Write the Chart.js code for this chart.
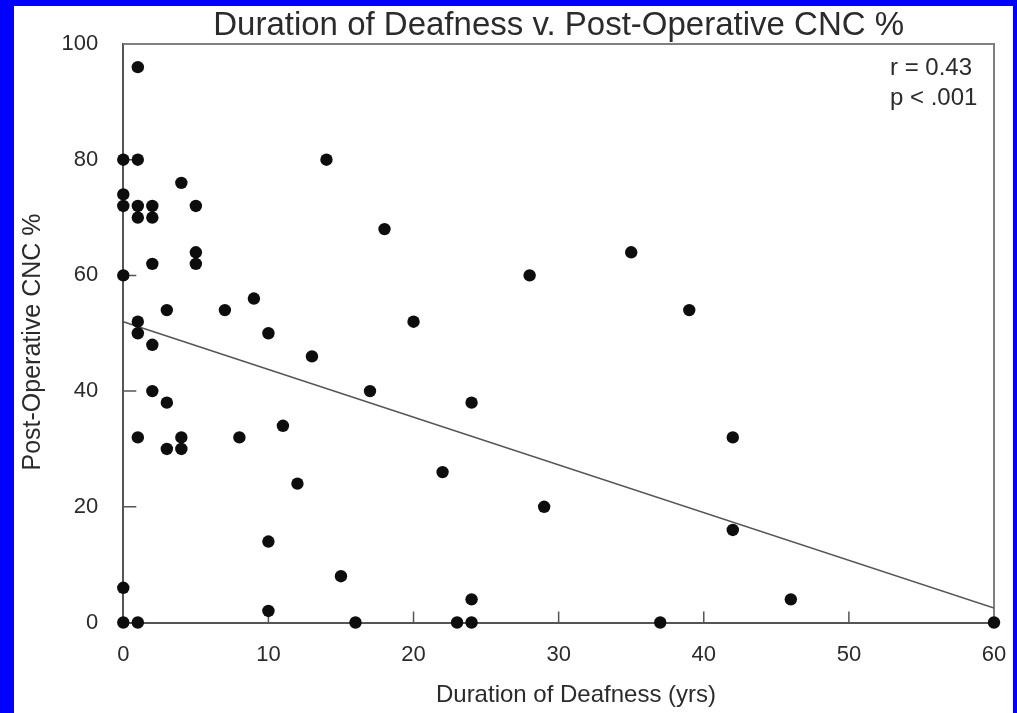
<!DOCTYPE html>
<html>
<head>
<meta charset="utf-8">
<title>Duration of Deafness v. Post-Operative CNC %</title>
<script src="https://cdn.jsdelivr.net/npm/chart.js@4/dist/chart.umd.min.js"></script>
<style>
  html, body { margin: 0; padding: 0; background: #0000ff; }
  #wrap { position: absolute; left: 14px; top: 6px; width: 999px; height: 707px; background: #fff; }
</style>
</head>
<body>
<div id="wrap"><canvas id="cnc"></canvas></div>
<script>
// duration of deafness (yrs) and post-operative CNC % for each patient
const years = [0, 0, 0, 0, 0, 0, 1, 1, 1, 1, 1, 1, 1, 1, 2, 2, 2, 2, 2, 3, 3, 3, 4, 4, 4, 5, 5, 5,
  7, 8, 9, 10, 10, 10, 11, 12, 13, 14, 15, 16, 17, 18, 20, 22, 23, 24, 24, 24, 28, 29, 35, 37, 39, 42, 42, 46, 60];
const cnc = [80, 74, 72, 60, 6, 0, 96, 80, 72, 70, 52, 50, 32, 0, 72, 70, 62, 48, 40, 54, 38, 30, 76, 32, 30, 72, 64, 62,
  54, 32, 56, 50, 14, 2, 34, 24, 46, 80, 8, 0, 40, 68, 52, 26, 0, 38, 4, 0, 60, 20, 64, 0, 54, 32, 16, 4, 0];

// regression line end points
const fitYears = [0, 60];
const fitCnc = [52, 2.5];

const xTicks = [0, 10, 20, 30, 40, 50, 60];
const yTicks = [0, 20, 40, 60, 80, 100];
const stats = ["r = 0.43", "p < .001"];

const FONT = "'Liberation Sans', Arial, sans-serif";
const INK = "#2b2b2b";

const extras = {
  id: "extras",
  beforeDatasetsDraw(chart) {
    const { ctx, chartArea: a, scales: { x, y } } = chart;
    ctx.save();
    // top and right edges of the box
    ctx.strokeStyle = "#808080";
    ctx.lineWidth = 2;
    ctx.beginPath();
    ctx.moveTo(a.left, a.top);
    ctx.lineTo(a.right, a.top);
    ctx.lineTo(a.right, a.bottom);
    ctx.stroke();
    // tick marks pointing into the plot
    ctx.strokeStyle = "#555";
    ctx.lineWidth = 1.5;
    ctx.beginPath();
    xTicks.slice(1, -1).forEach(v => {
      const px = x.getPixelForValue(v);
      ctx.moveTo(px, a.bottom);
      ctx.lineTo(px, a.bottom - 11);
    });
    yTicks.slice(1, -1).forEach(v => {
      const py = y.getPixelForValue(v);
      ctx.moveTo(a.left, py);
      ctx.lineTo(a.left + 13, py);
    });
    ctx.stroke();
    ctx.restore();
  },
  afterDraw(chart) {
    const { ctx, chartArea: a } = chart;
    ctx.save();
    ctx.fillStyle = INK;
    ctx.textBaseline = "alphabetic";

    ctx.font = "33px " + FONT;
    ctx.textAlign = "center";
    ctx.fillText("Duration of Deafness v. Post-Operative CNC %", (a.left + a.right) / 2, 29);

    ctx.font = "24px " + FONT;
    ctx.fillText("Duration of Deafness (yrs)", 562, 696);

    ctx.textAlign = "left";
    ctx.fillText(stats[0], 876, 69);
    ctx.fillText(stats[1], 876, 99);

    ctx.font = "25px " + FONT;
    ctx.translate(26, 336);
    ctx.rotate(-Math.PI / 2);
    ctx.textAlign = "center";
    ctx.fillText("Post-Operative CNC %", 0, 0);
    ctx.restore();
  }
};

new Chart(document.getElementById("cnc"), {
  type: "scatter",
  data: {
    datasets: [
      {
        data: years.map((v, i) => ({ x: v, y: cnc[i] })),
        pointRadius: 6.2,
        pointBackgroundColor: "#0d0d0d",
        pointBorderWidth: 0,
        clip: false
      },
      {
        type: "line",
        data: fitYears.map((v, i) => ({ x: v, y: fitCnc[i] })),
        borderColor: "#555",
        borderWidth: 1.5,
        pointRadius: 0,
        fill: false
      }
    ]
  },
  options: {
    responsive: true,
    maintainAspectRatio: false,
    animation: false,
    layout: { padding: { top: 38, right: 19, bottom: 0, left: 0 } },
    plugins: { legend: { display: false }, tooltip: { enabled: false } },
    scales: {
      x: {
        type: "linear",
        min: 0,
        max: 60,
        afterBuildTicks: s => { s.ticks = xTicks.map(v => ({ value: v })); },
        afterFit: s => { s.height = 90.5; s.paddingLeft = 0; s.paddingRight = 0; },
        ticks: { font: { size: 22, family: FONT }, color: INK, padding: 19, maxRotation: 0 },
        grid: { display: false, drawTicks: false },
        border: { display: true, color: "#555", width: 2 }
      },
      y: {
        min: 0,
        max: 100,
        afterBuildTicks: s => { s.ticks = yTicks.map(v => ({ value: v })); },
        afterFit: s => { s.width = 109.3; s.paddingTop = 0; s.paddingBottom = 0; },
        ticks: { font: { size: 22, family: FONT }, color: INK, padding: 25 },
        grid: { display: false, drawTicks: false },
        border: { display: true, color: "#555", width: 2 }
      }
    }
  },
  plugins: [extras]
});
</script>
</body>
</html>
